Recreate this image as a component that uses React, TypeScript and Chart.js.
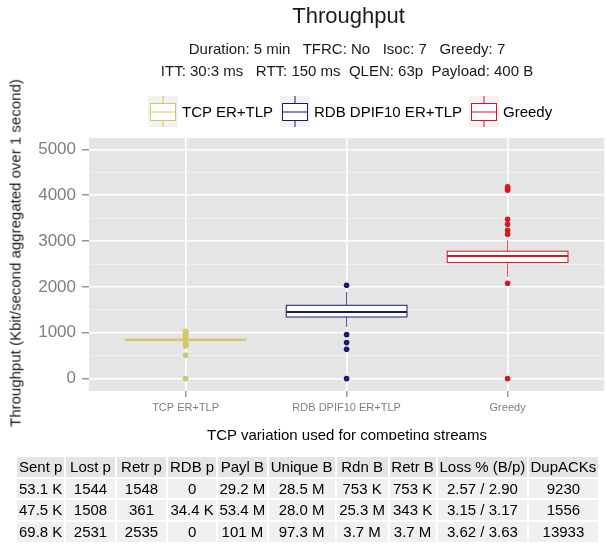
import React, { useEffect, useRef } from 'react';
import { Chart, registerables } from 'chart.js';

Chart.register(...registerables);

const FONT = '"Liberation Sans", Arial, Helvetica, sans-serif';

const categories = ['TCP ER+TLP', 'RDB DPIF10 ER+TLP', 'Greedy'];
const colors = ['#CFC66E', '#1A1A6B', '#D6181E'];

const lowerWhisker = [826, 1127, 2218];
const q1 = [836, 1345, 2533];
const medians = [846, 1455, 2677];
const q3 = [857, 1600, 2780];
const upperWhisker = [866, 1890, 3020];

const outliersTCP = [0, 510, 715, 740, 770, 800, 900, 940, 980, 1010, 1030];
const outliersRDB = [0, 640, 786, 960, 2037];
const outliersGreedy = [0, 2081, 3151, 3238, 3369, 3478, 4110, 4150, 4183];

const yTicks = [0, 500, 1000, 1500, 2000, 2500, 3000, 3500, 4000, 4500, 5000];

const tableHeader = ['Sent p', 'Lost p', 'Retr p', 'RDB p', 'Payl B', 'Unique B', 'Rdn B', 'Retr B', 'Loss % (B/p)', 'DupACKs'];
const tableRows = [
  ['53.1 K', '1544', '1548', '0', '29.2 M', '28.5 M', '753 K', '753 K', '2.57 / 2.90', '9230'],
  ['47.5 K', '1508', '361', '34.4 K', '53.4 M', '28.0 M', '25.3 M', '343 K', '3.15 / 3.17', '1556'],
  ['69.8 K', '2531', '2535', '0', '101 M', '97.3 M', '3.7 M', '3.7 M', '3.62 / 3.63', '13933'],
];
const colWidths = [46.7, 49, 49, 48.3, 48.3, 66, 51, 46, 89.7, 68.3];

const panelBg = {
  id: 'panelBg',
  beforeDraw(chart: any) {
    const { ctx, chartArea: a } = chart;
    ctx.save();
    ctx.fillStyle = '#E5E5E5';
    ctx.fillRect(a.left, a.top, a.right - a.left, a.bottom - a.top);
    ctx.restore();
  },
};

const boxPlugin = {
  id: 'boxes',
  beforeDatasetsDraw(chart: any) {
    const { ctx } = chart;
    const xs = chart.scales.x;
    const ys = chart.scales.y;
    categories.forEach((_, i) => {
      const cx = xs.getPixelForValue(i);
      const half = xs.getPixelForValue(i + 0.375) - cx;
      const yLo = ys.getPixelForValue(lowerWhisker[i]);
      const yQ1 = ys.getPixelForValue(q1[i]);
      const yMed = ys.getPixelForValue(medians[i]);
      const yQ3 = ys.getPixelForValue(q3[i]);
      const yHi = ys.getPixelForValue(upperWhisker[i]);
      ctx.save();
      ctx.strokeStyle = colors[i];
      ctx.lineWidth = 1;
      ctx.globalAlpha = 0.8;
      ctx.beginPath();
      ctx.moveTo(cx, yQ3);
      ctx.lineTo(cx, yHi);
      ctx.moveTo(cx, yQ1);
      ctx.lineTo(cx, yLo);
      ctx.stroke();
      ctx.globalAlpha = 1;
      ctx.fillStyle = '#FFFFFF';
      ctx.fillRect(cx - half, yQ3, 2 * half, yQ1 - yQ3);
      ctx.strokeRect(cx - half, yQ3, 2 * half, yQ1 - yQ3);
      ctx.lineWidth = 2;
      ctx.beginPath();
      ctx.moveTo(cx - half, yMed);
      ctx.lineTo(cx + half, yMed);
      ctx.stroke();
      ctx.restore();
    });
  },
};

function LegendKey({ color }: { color: string }) {
  return (
    <svg width={30} height={31} style={{ display: 'block' }}>
      <rect x={0} y={0} width={30} height={31} fill="#F2F2F2" />
      <line x1={15} y1={0} x2={15} y2={8} stroke={color} strokeWidth={1} />
      <line x1={15} y1={24} x2={15} y2={31} stroke={color} strokeWidth={1} />
      <rect x={2.5} y={7.5} width={25} height={17} fill="#FFFFFF" stroke={color} strokeWidth={1} />
      <line x1={2.5} y1={16} x2={27.5} y2={16} stroke={color} strokeWidth={1} />
    </svg>
  );
}

export default function App() {
  const canvasRef = useRef<HTMLCanvasElement | null>(null);

  useEffect(() => {
    if (!canvasRef.current) return;
    const outlierSets = [outliersTCP, outliersRDB, outliersGreedy];
    const isMajor = (v: number) => v % 1000 === 0;
    const chart = new Chart(canvasRef.current, {
      type: 'scatter',
      data: {
        datasets: outlierSets.map((set, i) => ({
          label: categories[i],
          data: set.map((v) => ({ x: i, y: v })),
          backgroundColor: colors[i],
          borderColor: colors[i],
          borderWidth: 0,
          pointRadius: 2.8,
          pointHoverRadius: 2.8,
        })),
      },
      options: {
        animation: false,
        responsive: false,
        devicePixelRatio: 1,
        events: [],
        layout: { padding: { top: 138, right: 2, left: 0, bottom: 0 } },
        plugins: { legend: { display: false }, tooltip: { enabled: false }, title: { display: false } },
        scales: {
          x: {
            type: 'linear',
            min: -0.6,
            max: 2.6,
            afterBuildTicks: (s: any) => {
              s.ticks = categories.map((_, i) => ({ value: i }));
            },
            afterFit: (s: any) => {
              s.height = 49;
            },
            ticks: {
              callback: (v: any) => categories[v as number] ?? '',
              font: { family: FONT, size: 11 },
              color: '#7F7F7F',
              padding: 4,
              maxRotation: 0,
              autoSkip: false,
            },
            grid: {
              color: '#FFFFFF',
              lineWidth: 1.6,
              tickColor: '#7F7F7F',
              tickLength: 6,
              tickWidth: 1.2,
            },
            border: { display: false },
          },
          y: {
            type: 'linear',
            min: -270,
            max: 5250,
            afterBuildTicks: (s: any) => {
              s.ticks = yTicks.map((v) => ({ value: v }));
            },
            afterFit: (s: any) => {
              s.width = 89;
            },
            ticks: {
              callback: (v: any) => (isMajor(v) ? String(v) : ''),
              font: { family: FONT, size: 17 },
              color: '#7F7F7F',
              padding: 6,
              autoSkip: false,
            },
            grid: {
              color: (c: any) => (c.tick && isMajor(c.tick.value) ? '#FFFFFF' : '#F2F2F2'),
              lineWidth: (c: any) => (c.tick && isMajor(c.tick.value) ? 1.6 : 0.8),
              tickColor: (c: any) => (c.tick && isMajor(c.tick.value) ? '#7F7F7F' : 'rgba(0,0,0,0)'),
              tickLength: 7,
              tickWidth: 1.2,
            },
            border: { display: false },
          },
        },
      },
      plugins: [panelBg, boxPlugin],
    } as any);
    return () => chart.destroy();
  }, []);

  const textBase: React.CSSProperties = {
    position: 'absolute',
    whiteSpace: 'pre',
    lineHeight: 1,
    fontFamily: FONT,
  };

  return (
    <div
      style={{
        position: 'absolute',
        left: 0,
        top: 0,
        width: 607,
        height: 548,
        overflow: 'hidden',
        background: '#FFFFFF',
        fontFamily: FONT,
      }}
    >
      <canvas
        ref={canvasRef}
        width={607}
        height={440}
        style={{ position: 'absolute', left: 0, top: 0, width: 607, height: 440 }}
      />
      <div style={{ ...textBase, left: 348.5, top: 4.7, fontSize: 22, color: '#1a1a1a', transform: 'translateX(-50%)' }}>
        Throughput
      </div>
      <div style={{ ...textBase, left: 347, top: 41, fontSize: 15, color: '#1a1a1a', transform: 'translateX(-50%)' }}>
        {'Duration: 5 min   TFRC: No   Isoc: 7   Greedy: 7'}
      </div>
      <div style={{ ...textBase, left: 347, top: 63, fontSize: 15, color: '#1a1a1a', transform: 'translateX(-50%)' }}>
        {'ITT: 30:3 ms   RTT: 150 ms  QLEN: 63p  Payload: 400 B'}
      </div>
      <div
        style={{
          position: 'absolute',
          left: 148,
          top: 96,
          height: 31,
          display: 'flex',
          alignItems: 'center',
          fontFamily: FONT,
          fontSize: 15,
          color: '#000',
        }}
      >
        {categories.map((c, i) => (
          <div key={c} style={{ display: 'flex', alignItems: 'center', marginRight: i < 2 ? 7 : 0 }}>
            <LegendKey color={colors[i]} />
            <span style={{ marginLeft: 4, lineHeight: 1, whiteSpace: 'pre' }}>{c}</span>
          </div>
        ))}
      </div>
      <div
        style={{
          ...textBase,
          left: 15,
          top: 253,
          fontSize: 15,
          color: '#1a1a1a',
          transform: 'translate(-50%, -50%) rotate(-90deg)',
        }}
      >
        Throughput (Kbit/second aggregated over 1 second)
      </div>
      <div style={{ ...textBase, left: 347, top: 426.5, fontSize: 15, color: '#000', transform: 'translateX(-50%)' }}>
        TCP variation used for competing streams
      </div>
      <div style={{ position: 'absolute', left: 0, top: 440, width: 607, height: 108, background: '#FFFFFF' }}>
        <table
          style={{
            position: 'absolute',
            left: 15.3,
            top: 15.3,
            borderCollapse: 'separate',
            borderSpacing: 2,
            tableLayout: 'fixed',
            width: colWidths.reduce((a, b) => a + b, 0) + 2 * (colWidths.length + 1),
            fontFamily: FONT,
            fontSize: 15,
            color: '#000',
          }}
        >
          <colgroup>
            {colWidths.map((w, i) => (
              <col key={i} style={{ width: w }} />
            ))}
          </colgroup>
          <thead>
            <tr>
              {tableHeader.map((h) => (
                <th
                  key={h}
                  style={{
                    background: '#E4E4E4',
                    fontWeight: 'normal',
                    padding: 0,
                    height: 19.6,
                    lineHeight: '19.6px',
                    textAlign: 'center',
                    whiteSpace: 'nowrap',
                  }}
                >
                  {h}
                </th>
              ))}
            </tr>
          </thead>
          <tbody>
            {tableRows.map((row, r) => (
              <tr key={r}>
                {row.map((cell, c) => (
                  <td
                    key={c}
                    style={{
                      background: '#F0F0F0',
                      padding: 0,
                      height: 19.6,
                      lineHeight: '19.6px',
                      textAlign: 'center',
                      whiteSpace: 'nowrap',
                    }}
                  >
                    {cell}
                  </td>
                ))}
              </tr>
            ))}
          </tbody>
        </table>
      </div>
    </div>
  );
}
